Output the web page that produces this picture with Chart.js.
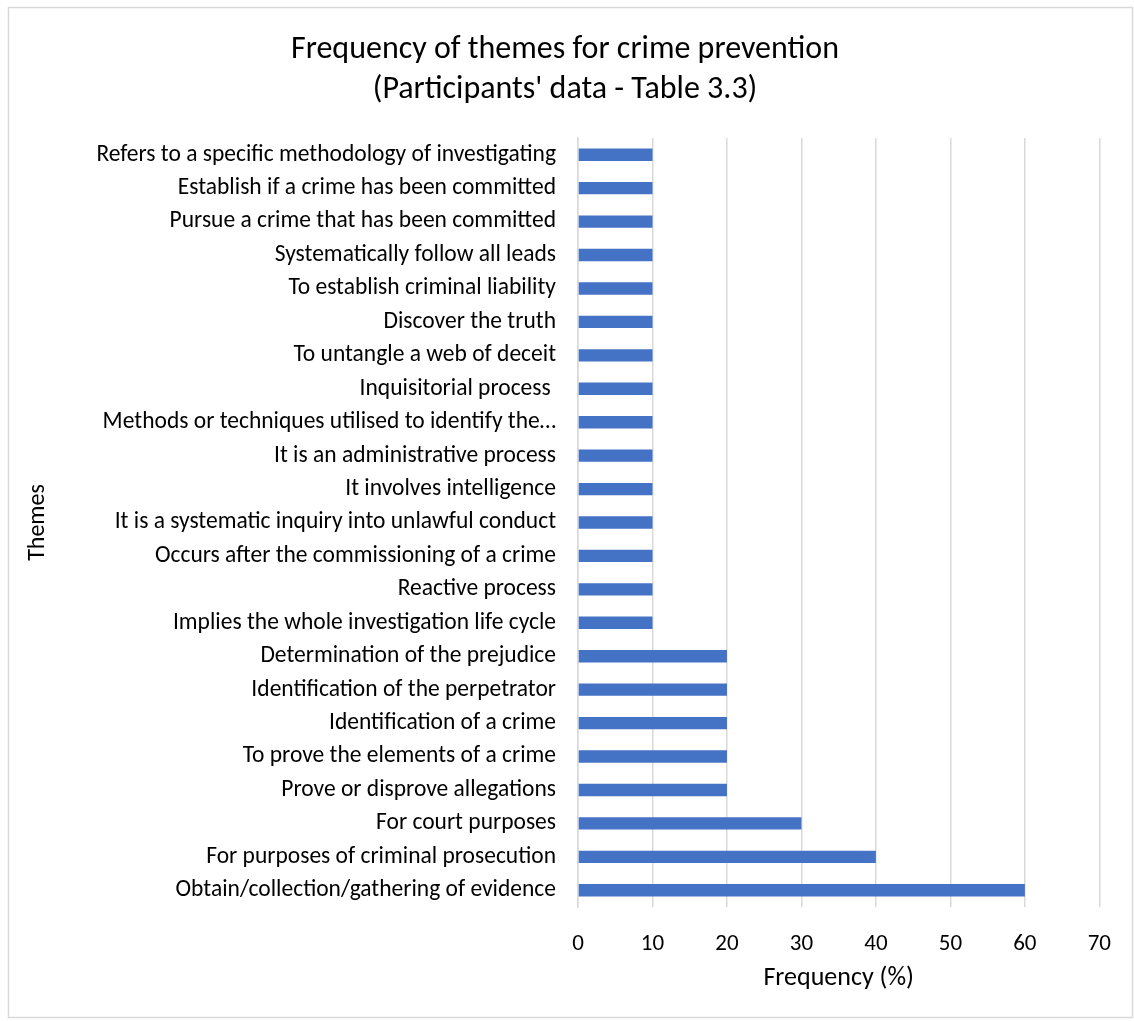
<!DOCTYPE html>
<html>
<head>
<meta charset="utf-8">
<script src="https://cdn.jsdelivr.net/npm/chart.js@4.4.0/dist/chart.umd.min.js"></script>
<style>
  html, body { margin: 0; padding: 0; background: #fff; }
  #wrap { width: 1134px; height: 1021px; position: relative; }
</style>
</head>
<body>
<div id="wrap"><canvas id="chart_Themes"></canvas></div>
<script>
// themes, top to bottom as in the table
var themes = [
  "Refers to a specific methodology of investigating",
  "Establish if a crime has been committed",
  "Pursue a crime that has been committed",
  "Systematically follow all leads",
  "To establish criminal liability",
  "Discover the truth",
  "To untangle a web of deceit",
  "Inquisitorial process ",
  "Methods or techniques utilised to identify the\u2026",
  "It is an administrative process",
  "It involves intelligence",
  "It is a systematic inquiry into unlawful conduct",
  "Occurs after the commissioning of a crime",
  "Reactive process",
  "Implies the whole investigation life cycle",
  "Determination of the prejudice",
  "Identification of the perpetrator",
  "Identification of a crime",
  "To prove the elements of a crime",
  "Prove or disprove allegations",
  "For court purposes",
  "For purposes of criminal prosecution",
  "Obtain/collection/gathering of evidence"
];
var frequency = [10, 10, 10, 10, 10, 10, 10, 10, 10, 10, 10, 10, 10, 10, 10, 20, 20, 20, 20, 20, 30, 40, 60];
var xTicks = [0, 10, 20, 30, 40, 50, 60, 70];

var fontFamily = "Carlito, Lato, 'Open Sans', sans-serif";

// white background plus the thin grey frame round the chart
var framePlugin = {
  id: 'frame',
  beforeDraw: function (chart) {
    var ctx = chart.ctx;
    ctx.save();
    ctx.fillStyle = '#ffffff';
    ctx.fillRect(0, 0, chart.width, chart.height);
    ctx.strokeStyle = '#d9d9d9';
    ctx.lineWidth = 1.5;
    ctx.strokeRect(8.5, 7.5, chart.width - 10, chart.height - 11);
    ctx.restore();
  }
};

new Chart(document.getElementById("chart_Themes"), {
  type: 'bar',
  data: {
    labels: themes,
    datasets: [{
      label: "Frequency (%)",
      backgroundColor: "#4472C4",
      data: frequency,
      categoryPercentage: 1.0,
      barPercentage: 0.37
    }]
  },
  options: {
    indexAxis: 'y',
    responsive: true,
    maintainAspectRatio: false,
    animation: false,
    layout: { padding: { top: 20, left: 20, right: 24, bottom: 20 } },
    plugins: {
      legend: { display: false },
      tooltip: { enabled: false },
      title: {
        display: true,
        text: ['Frequency of themes for crime prevention', "(Participants' data - Table 3.3)"],
        color: '#000',
        font: { family: fontFamily, size: 32, weight: 'normal', lineHeight: 1.25 },
        padding: { top: 10, bottom: 28 }
      }
    },
    scales: {
      x: {
        min: 0,
        max: 70,
        afterBuildTicks: function (scale) {
          scale.ticks = xTicks.map(function (v) { return { value: v }; });
        },
        afterFit: function (scale) { scale.height = 94; },
        grid: { color: '#d9d9d9', lineWidth: 1.5, drawTicks: false },
        border: { display: false },
        ticks: { color: '#000', padding: 23, font: { family: fontFamily, size: 23 } },
        title: {
          display: true,
          text: 'Frequency (%)',
          color: '#000',
          font: { family: fontFamily, size: 26 },
          padding: { top: 6, bottom: 7 }
        }
      },
      y: {
        afterFit: function (scale) { scale.width = 558; },
        grid: { display: false, drawTicks: false },
        border: { display: true, color: '#d9d9d9', width: 1.5 },
        ticks: { color: '#000', padding: 22, autoSkip: false, font: { family: fontFamily, size: 23.5 } },
        title: {
          display: true,
          text: 'Themes',
          color: '#000',
          font: { family: fontFamily, size: 24 },
          padding: { top: 4, bottom: 4 }
        }
      }
    }
  },
  plugins: [framePlugin]
});
</script>
</body>
</html>
